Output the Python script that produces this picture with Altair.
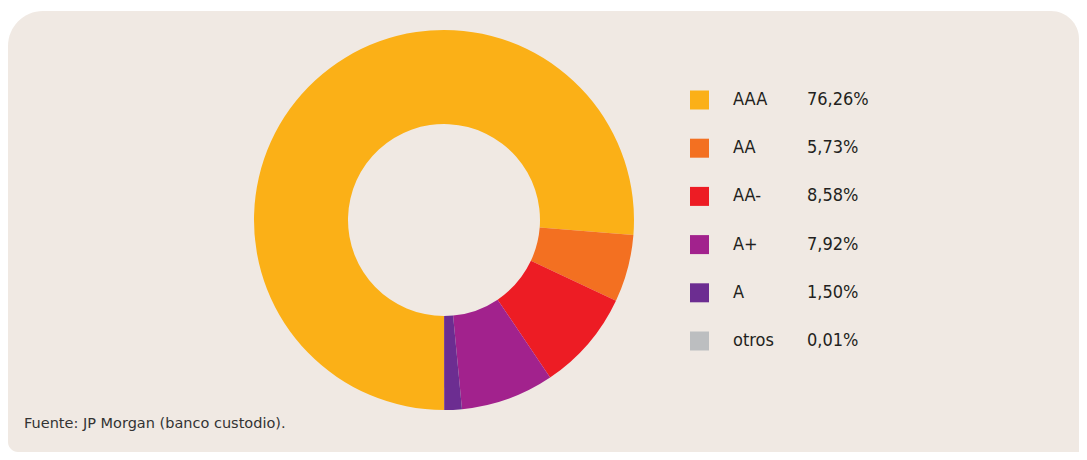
import math
import altair as alt
import pandas as pd

categories = ["AAA", "AA", "AA-", "A+", "A", "otros"]
values = [76.26, 5.73, 8.58, 7.92, 1.50, 0.01]
colors = ["#FBB017", "#F37021", "#ED1C24", "#A2228D", "#6C2D91", "#BCBEC0"]
source_text = "Fuente: JP Morgan (banco custodio)."

W, H = 1071, 444
BG = "#F0E9E3"
LEG_FONT = "Liberation Sans Narrow, DejaVu Sans Condensed, Roboto Condensed, Roboto, sans-serif"

df = pd.DataFrame({
    "cat": categories,
    "value": values,
    "idx": list(range(len(categories))),
    "pct": [f"{v:.2f}".replace(".", ",") + "%" for v in values],
})

color = alt.Color("cat:N", scale=alt.Scale(domain=categories, range=colors), legend=None)

bg = alt.Chart(alt.Data(values=[{}])).mark_rect(
    fill=BG, cornerRadiusTopLeft=35, cornerRadiusTopRight=28, cornerRadiusBottomLeft=10
).encode(x=alt.value(0), x2=alt.value(W), y=alt.value(3), y2=alt.value(H))

donut = alt.Chart(df).mark_arc(outerRadius=190, innerRadius=96).encode(
    theta=alt.Theta("value:Q", stack=True, scale=alt.Scale(range=[math.pi, 3 * math.pi])),
    order=alt.Order("idx:Q"),
    color=color,
    x=alt.value(436),
    y=alt.value(212),
)

ypos = alt.Y("cat:N", sort=categories, axis=None,
             scale=alt.Scale(type="point", domain=categories, range=[92, 333], padding=0))

squares = alt.Chart(df).mark_square(size=361, opacity=1).encode(
    x=alt.value(691.5), y=ypos, color=color
)

labels = alt.Chart(df).mark_text(
    align="left", baseline="middle", font=LEG_FONT, fontSize=18, color="#231F20"
).encode(x=alt.value(725), y=ypos, text="cat:N")

pcts = alt.Chart(df).mark_text(
    align="left", baseline="middle", font=LEG_FONT, fontSize=18, color="#231F20"
).encode(x=alt.value(799), y=ypos, text="pct:N")

src = alt.Chart(pd.DataFrame({"t": [source_text]})).mark_text(
    align="left", baseline="alphabetic", font="DejaVu Sans", fontSize=14.5, color="#333333"
).encode(x=alt.value(16), y=alt.value(420), text="t:N")

chart = alt.layer(bg, donut, squares, labels, pcts, src).properties(
    width=W, height=H, background="white", padding=0,
    autosize=alt.AutoSizeParams(type="fit", contains="padding"),
).configure_view(stroke=None)

chart.save("out.html", embed_options={"renderer": "svg", "actions": False})
